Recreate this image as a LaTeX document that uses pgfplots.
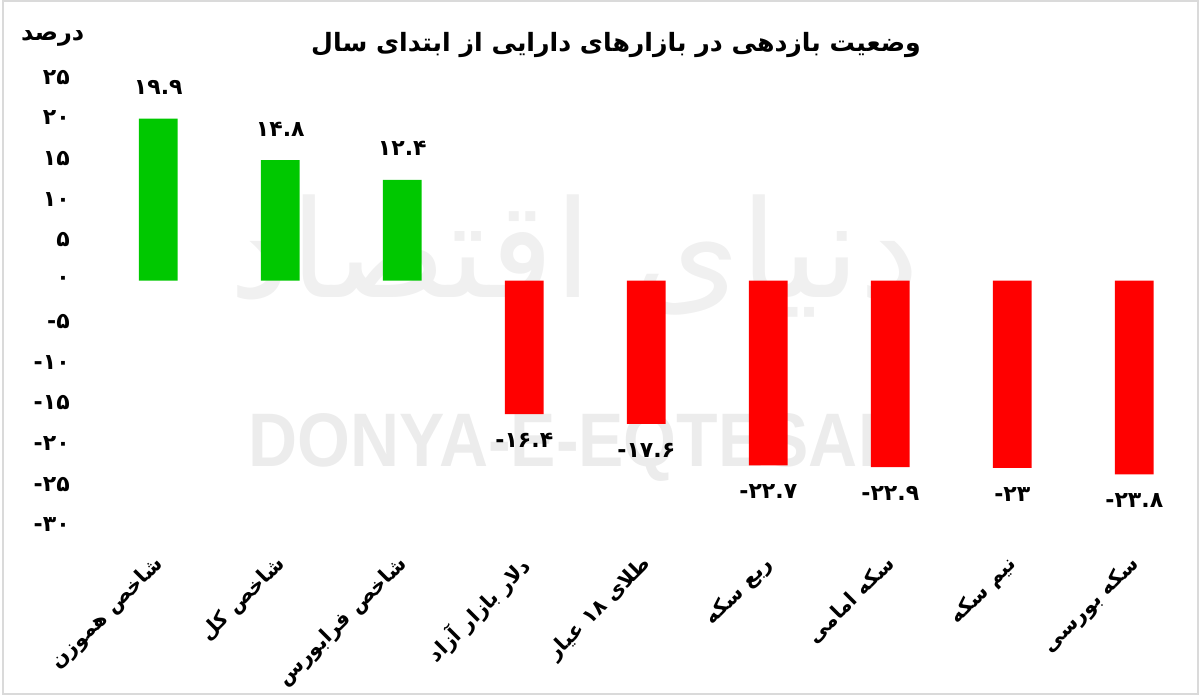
\documentclass[border=0pt]{standalone}
\usepackage{pgfplots}
\pgfplotsset{compat=1.18}
\usepackage{graphicx}
\usepackage{fontspec}
\setmainfont{DejaVu Sans}
\newfontfamily\arabicfont[Script=Arabic]{DejaVu Sans}
\newfontfamily\digitfont{DejaVu Sans}
\newfontfamily\latinbold{Liberation Sans}
\TeXXeTstate=1
\definecolor{barGreen}{RGB}{0,200,0}
\definecolor{barRed}{RGB}{255,0,0}
\definecolor{wm}{RGB}{236,236,236}
\definecolor{wmlogo}{RGB}{240,240,240}
\definecolor{frameGray}{RGB}{218,218,218}
\begin{document}
\begin{tikzpicture}
\begin{axis}[
  set layers,
  x=61pt, y=4.07pt,
  xmin=-0.6, xmax=8.4, ymin=-32, ymax=27,
  clip=false,
  axis line style={draw=none},
  tick style={draw=none},
  major tick length=0pt,
  ybar, bar width=19.35pt, bar shift=0pt,
  ytick={-30,-25,-20,-15,-10,-5,0,5,10,15,20,25},
  yticklabels={-۳۰,-۲۵,-۲۰,-۱۵,-۱۰,-۵,۰,۵,۱۰,۱۵,۲۰,۲۵},
  yticklabel style={font=\digitfont\bfseries\fontsize{11}{13}\selectfont, anchor=east, inner sep=0pt, xshift=-7.5pt},
  xtick={0,1,2,3,4,5,6,7,8},
  xticklabels={
    {\beginR شاخص هموزن\endR},
    {\beginR شاخص کل\endR},
    {\beginR شاخص فرابورس\endR},
    {\beginR دلار بازار آزاد\endR},
    {\beginR طلای ۱۸ عیار\endR},
    {\beginR ربع سکه\endR},
    {\beginR سکه امامی\endR},
    {\beginR نیم سکه\endR},
    {\beginR سکه بورسی\endR}},
  xticklabel style={font=\arabicfont\bfseries\fontsize{10.3}{12}\selectfont, xshift=-3pt, yshift=-6pt, rotate=45, anchor=north east, inner sep=0pt},
  point meta=explicit symbolic,
  nodes near coords style={font=\digitfont\bfseries\fontsize{11}{13}\selectfont, text=black},
]
\begin{pgfonlayer}{axis background}
\node[text=wmlogo, anchor=center] at (axis cs:3.416,3.0) {\resizebox{345pt}{!}{\arabicfont\beginR دنیای اقتصاد\endR}};
\node[text=wm, anchor=center] at (axis cs:3.440,-20.43) {\resizebox{329pt}{26.5pt}{\latinbold\bfseries DONYA-E-EQTESAD}};
\end{pgfonlayer}
\addplot[fill=barGreen, draw=none, nodes near coords,
  every node near coord/.append style={anchor=base, yshift=12pt}]
  coordinates {(0,19.9) [۱۹.۹] (1,14.8) [۱۴.۸] (2,12.4) [۱۲.۴]};
\addplot[fill=barRed, draw=none, nodes near coords,
  every node near coord/.append style={anchor=base, yshift=-16.75pt}]
  coordinates {(3,-16.4) [-۱۶.۴] (4,-17.6) [-۱۷.۶] (5,-22.7) [-۲۲.۷] (6,-22.9) [-۲۲.۹] (7,-23) [-۲۳] (8,-23.8) [-۲۳.۸]};
\node[font=\arabicfont\bfseries\fontsize{12.6}{15}\selectfont, anchor=center] at (axis cs:3.752,29.0) {\beginR وضعیت بازدهی در بازارهای دارایی از ابتدای سال\endR};
\node[font=\arabicfont\bfseries\fontsize{12}{14}\selectfont, anchor=center] at (axis cs:-0.866,29.8) {\beginR درصد\endR};
\coordinate (bbA) at (axis cs:-1.2975,34.484);
\coordinate (bbB) at (axis cs:8.5385,-50.897);
\coordinate (frA) at (axis cs:-1.2689,34.30);
\coordinate (frB) at (axis cs:8.523,-50.713);
\end{axis}
\draw[frameGray, line width=1pt] (frA) rectangle (frB);
\pgfresetboundingbox
\path (bbA) rectangle (bbB);
\end{tikzpicture}
\end{document}
